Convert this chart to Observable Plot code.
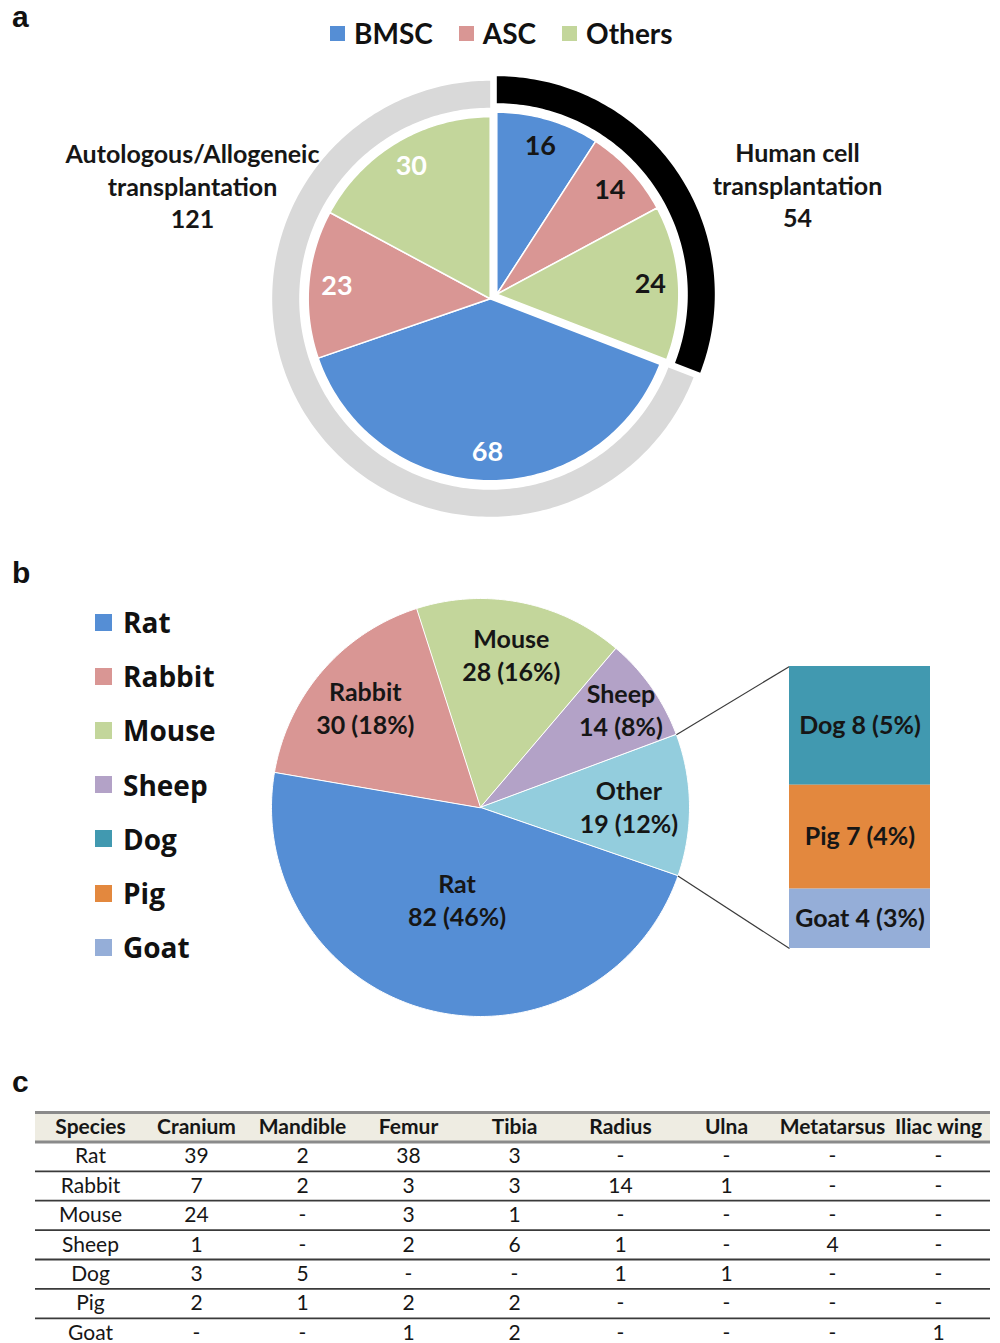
<!DOCTYPE html>
<html><head><meta charset="utf-8">
<script src="https://cdn.jsdelivr.net/npm/d3@7"></script>
<script src="https://cdn.jsdelivr.net/npm/@observablehq/plot@0.6"></script>
<style>
  body { margin: 0; background: #fff; }
  #page { position: relative; width: 1000px; height: 1343px; overflow: hidden; background: #fff; font-family: Lato, "Open Sans", sans-serif; color: #111; }
  .abs { position: absolute; }
  .letter { font-family: "Liberation Sans", Arial, sans-serif; font-weight: 700; font-size: 30px; line-height: normal; color: #111; }
  .legendA { display: flex; align-items: center; gap: 26px; height: 36px; font-weight: 700; font-size: 28px; color: #111; }
  .legendA .item { display: flex; align-items: center; gap: 9px; }
  .legendA .sw { width: 15px; height: 15px; }
  .legendB { display: flex; flex-direction: column; font-family: "Open Sans", sans-serif; font-weight: 700; font-size: 28px; color: #111; }
  .legendB .item { display: flex; align-items: center; gap: 11px; height: 54.2px; }
  .legendB .sw { width: 17px; height: 17px; }
</style>
</head>
<body>
<div id="page"></div>
<script>
// ---------------- DATA ----------------
// Panel a
const groupsA = ["Human cell\ntransplantation", "Autologous/Allogeneic\ntransplantation"];
const groupTotalsA = [54, 121];
const cellTypesA = ["BMSC", "ASC", "Others"];
const humanCounts = [16, 14, 24];
const autoCounts = [68, 23, 30];

// Panel b
const speciesB = ["Mouse", "Sheep", "Other", "Rat", "Rabbit"];
const speciesCountsB = [28, 14, 19, 82, 30];
const speciesPctB = [16, 8, 12, 46, 18];
const otherSpecies = ["Dog", "Pig", "Goat"];
const otherCounts = [8, 7, 4];
const otherPct = [5, 4, 3];
const legendSpeciesB = ["Rat", "Rabbit", "Mouse", "Sheep", "Dog", "Pig", "Goat"];

// Panel c
const tableColumns = ["Species", "Cranium", "Mandible", "Femur", "Tibia", "Radius", "Ulna", "Metatarsus", "Iliac wing"];
const tableRows = ["Rat", "Rabbit", "Mouse", "Sheep", "Dog", "Pig", "Goat"];
const ratRow    = [39, 2, 38, 3, null, null, null, null];
const rabbitRow = [7, 2, 3, 3, 14, 1, null, null];
const mouseRow  = [24, null, 3, 1, null, null, null, null];
const sheepRow  = [1, null, 2, 6, 1, null, 4, null];
const dogRow    = [3, 5, null, null, 1, 1, null, null];
const pigRow    = [2, 1, 2, 2, null, null, null, null];
const goatRow   = [null, null, 1, 2, null, null, null, 1];
const tableValues = [ratRow, rabbitRow, mouseRow, sheepRow, dogRow, pigRow, goatRow];

// ---------------- STYLE / LAYOUT ----------------
const colorsA = ["#558ED5", "#D99694", "#C3D69B"];
const ringColors = ["#000000", "#D9D9D9"];
const speciesColor = {Rat: "#558ED5", Rabbit: "#D99694", Mouse: "#C3D69B", Sheep: "#B3A2C7", Other: "#93CDDD", Dog: "#4199B0", Pig: "#E3883E", Goat: "#95AED8"};
const FONT = "Lato, 'Open Sans', sans-serif";
const TXT = "#161616";

const A = {top: 60, height: 480, cx: 493, cy: 236, R: 182, ring0: 191, ring1: 218, explode: 4, labelR: 0.845};
const sideLabelPos = [{dx: 304, dy: -112}, {dx: -301, dy: -111}];
const B = {top: 580, height: 460, cx: 480, cy: 227, R: 209, start: -17.8 * Math.PI / 180};
const labelRadiusB = {Mouse: 0.75, Sheep: 0.82, Other: 0.71, Rat: 0.45, Rabbit: 0.73};
const BAR = {left: 309, width: 141, top: -141, bottom: 141};
const C = {top: 1095, height: 248, y0: 17, step: 29.4};

const page = document.getElementById("page");
function place(el, left, top) { const d = document.createElement("div"); d.className = "abs"; d.style.left = left + "px"; d.style.top = top + "px"; d.appendChild(el); page.appendChild(d); return d; }
function letter(t, left, top) { const s = document.createElement("div"); s.className = "letter"; s.textContent = t; place(s, left, top); }

function sectorPoints(a0, a1, r0, r1, ox, oy, key, extra) {
  const n = Math.max(2, Math.ceil((a1 - a0) / (Math.PI / 180)));
  const pts = [];
  for (let i = 0; i <= n; i++) { const a = a0 + (a1 - a0) * i / n; pts.push({x: ox + r1 * Math.sin(a), y: oy - r1 * Math.cos(a), key, ...extra}); }
  if (r0 === 0) pts.push({x: ox, y: oy, key, ...extra});
  else for (let i = n; i >= 0; i--) { const a = a0 + (a1 - a0) * i / n; pts.push({x: ox + r0 * Math.sin(a), y: oy - r0 * Math.cos(a), key, ...extra}); }
  return pts;
}

// ---------------- PANEL A ----------------
letter("a", 12, 0);
{
  const lg = document.createElement("div"); lg.className = "legendA";
  cellTypesA.forEach((t, i) => {
    const it = document.createElement("div"); it.className = "item";
    const sw = document.createElement("div"); sw.className = "sw"; sw.style.background = colorsA[i];
    const tx = document.createElement("span"); tx.textContent = t;
    it.appendChild(sw); it.appendChild(tx); lg.appendChild(it);
  });
  place(lg, 330, 15);
}
{
  const slices = [];
  groupsA.forEach((g, gi) => {
    const counts = gi === 0 ? humanCounts : autoCounts;
    cellTypesA.forEach((t, ti) => slices.push({group: gi, type: t, value: counts[ti]}));
  });
  const arcs = d3.pie().sort(null).value(d => d.value)(slices);
  const ring = d3.pie().sort(null)(groupTotalsA);
  const offs = ring.map(r => { const m = (r.startAngle + r.endAngle) / 2; return {ox: A.explode * Math.sin(m), oy: -A.explode * Math.cos(m)}; });

  const ringPts = ring.flatMap((r, gi) => sectorPoints(r.startAngle, r.endAngle, A.ring0, A.ring1, offs[gi].ox, offs[gi].oy, "ring" + gi, {group: gi}));
  const slicePts = arcs.flatMap((a, i) => { const o = offs[a.data.group]; return sectorPoints(a.startAngle, a.endAngle, 0, A.R, o.ox, o.oy, "s" + i, {type: a.data.type}); });
  const labels = arcs.map(a => { const o = offs[a.data.group]; const m = (a.startAngle + a.endAngle) / 2; const r = A.R * A.labelR;
    return {x: o.ox + r * Math.sin(m), y: o.oy - r * Math.cos(m), text: String(a.data.value), group: a.data.group}; });
  const side = groupsA.map((g, gi) => ({x: sideLabelPos[gi].dx, y: sideLabelPos[gi].dy, text: g + "\n" + groupTotalsA[gi]}));

  const svg = Plot.plot({
    width: 1000, height: A.height, margin: 0,
    style: {fontFamily: FONT, background: "transparent", overflow: "visible"},
    x: {domain: [-A.cx, 1000 - A.cx], range: [0, 1000], axis: null},
    y: {domain: [-A.cy, A.height - A.cy], range: [0, A.height], axis: null},
    color: {domain: cellTypesA, range: colorsA},
    marks: [
      Plot.line(ringPts.filter(d => d.group === 0), {x: "x", y: "y", z: "key", fill: ringColors[0], stroke: "none", curve: "linear-closed"}),
      Plot.line(ringPts.filter(d => d.group === 1), {x: "x", y: "y", z: "key", fill: ringColors[1], stroke: "none", curve: "linear-closed"}),
      Plot.line(slicePts, {x: "x", y: "y", z: "key", fill: "type", stroke: "#fff", strokeWidth: 1.5, curve: "linear-closed"}),
      Plot.text(labels.filter(d => d.group === 0), {x: "x", y: "y", text: "text", fill: TXT, fontSize: 27, fontWeight: 700}),
      Plot.text(labels.filter(d => d.group === 1), {x: "x", y: "y", text: "text", fill: "#fff", fontSize: 27, fontWeight: 700}),
      Plot.text(side, {x: "x", y: "y", text: "text", fill: TXT, fontSize: 25, fontWeight: 700, lineHeight: 1.3})
    ]
  });
  place(svg, 0, A.top);
}

// ---------------- PANEL B ----------------
letter("b", 12, 556);
{
  const lg = document.createElement("div"); lg.className = "legendB";
  legendSpeciesB.forEach(s => {
    const it = document.createElement("div"); it.className = "item";
    const sw = document.createElement("div"); sw.className = "sw"; sw.style.background = speciesColor[s];
    const tx = document.createElement("span"); tx.textContent = s;
    it.appendChild(sw); it.appendChild(tx); lg.appendChild(it);
  });
  place(lg, 95, 595);
}
{
  const data = speciesB.map((s, i) => ({name: s, count: speciesCountsB[i], pct: speciesPctB[i]}));
  const arcs = d3.pie().sort(null).value(d => d.count).startAngle(B.start).endAngle(B.start + 2 * Math.PI)(data);
  const pts = arcs.flatMap((a, i) => sectorPoints(a.startAngle, a.endAngle, 0, B.R, 0, 0, "b" + i, {name: a.data.name}));
  const labels = arcs.map(a => { const m = (a.startAngle + a.endAngle) / 2; const r = B.R * labelRadiusB[a.data.name];
    return {x: r * Math.sin(m), y: -r * Math.cos(m), text: `${a.data.name}\n${a.data.count} (${a.data.pct}%)`}; });
  const other = arcs.find(a => a.data.name === "Other");
  const links = [
    {x1: B.R * Math.sin(other.startAngle), y1: -B.R * Math.cos(other.startAngle), x2: BAR.left, y2: BAR.top},
    {x1: B.R * Math.sin(other.endAngle), y1: -B.R * Math.cos(other.endAngle), x2: BAR.left, y2: BAR.bottom}
  ];
  const names = Object.keys(speciesColor);
  const svg = Plot.plot({
    width: 1000, height: B.height, margin: 0,
    style: {fontFamily: FONT, background: "transparent", overflow: "visible"},
    x: {domain: [-B.cx, 1000 - B.cx], range: [0, 1000], axis: null},
    y: {domain: [-B.cy, B.height - B.cy], range: [0, B.height], axis: null},
    color: {domain: names, range: names.map(n => speciesColor[n])},
    marks: [
      Plot.line(pts, {x: "x", y: "y", z: "key", fill: "name", stroke: "#fff", strokeWidth: 1, curve: "linear-closed"}),
      Plot.link(links, {x1: "x1", y1: "y1", x2: "x2", y2: "y2", stroke: "#3a3a3a", strokeWidth: 1.2}),
      Plot.text(labels, {x: "x", y: "y", text: "text", fill: TXT, fontSize: 25, fontWeight: 700, lineHeight: 1.32})
    ]
  });
  place(svg, 0, B.top);

  const od = otherSpecies.map((s, i) => ({name: s, count: otherCounts[i], pct: otherPct[i]}));
  const bar = Plot.plot({
    width: BAR.width, height: BAR.bottom - BAR.top, margin: 0,
    style: {fontFamily: FONT, background: "transparent", overflow: "visible"},
    x: {axis: null},
    y: {domain: [0, d3.sum(otherCounts)], reverse: true, axis: null},
    color: {domain: names, range: names.map(n => speciesColor[n])},
    marks: [
      Plot.barY(od, {y: "count", fill: "name"}),
      Plot.text(od, Plot.stackY({y: "count", text: d => `${d.name} ${d.count} (${d.pct}%)`, fill: TXT, fontSize: 25, fontWeight: 700}))
    ]
  });
  place(bar, B.cx + BAR.left, B.top + B.cy + BAR.top);
}

// ---------------- PANEL C ----------------
letter("c", 12, 1065);
{
  const header = tableColumns.map(c => ({col: c, row: 0, text: c}));
  const body = tableRows.flatMap((r, i) => [{col: tableColumns[0], row: i + 1, text: r}]
    .concat(tableValues[i].map((v, j) => ({col: tableColumns[j + 1], row: i + 1, text: v == null ? "-" : String(v)}))));
  const seps = d3.range(1, tableRows.length).map(i => ({y: i + 0.5}));
  const svg = Plot.plot({
    width: 1000, height: C.height, marginLeft: 35, marginRight: 10, marginTop: 0, marginBottom: 0,
    style: {fontFamily: FONT, background: "transparent", overflow: "visible"},
    x: {type: "point", domain: tableColumns, range: [86, 941], padding: 0, axis: null},
    y: {domain: [-0.5, tableRows.length + 0.5], range: [C.y0, C.y0 + (tableRows.length + 1) * C.step], axis: null},
    marks: [
      Plot.rect([{row: 0}], {y1: d => d.row - 0.5, y2: d => d.row + 0.5, fill: "#EEECE2"}),
      Plot.ruleY([{row: 0}], {y: d => d.row - 0.5, stroke: "#8a8a8a", strokeWidth: 3}),
      Plot.ruleY([{row: 0}], {y: d => d.row + 0.5, stroke: "#8a8a8a", strokeWidth: 3}),
      Plot.ruleY(seps, {y: "y", stroke: "#3a3a3a", strokeWidth: 1.8}),
      Plot.text(header, {x: "col", y: "row", text: "text", fill: TXT, fontSize: 21, fontWeight: 700}),
      Plot.text(body, {x: "col", y: "row", text: "text", fill: TXT, fontSize: 21})
    ]
  });
  place(svg, 0, C.top);
}
</script>
</body></html>
